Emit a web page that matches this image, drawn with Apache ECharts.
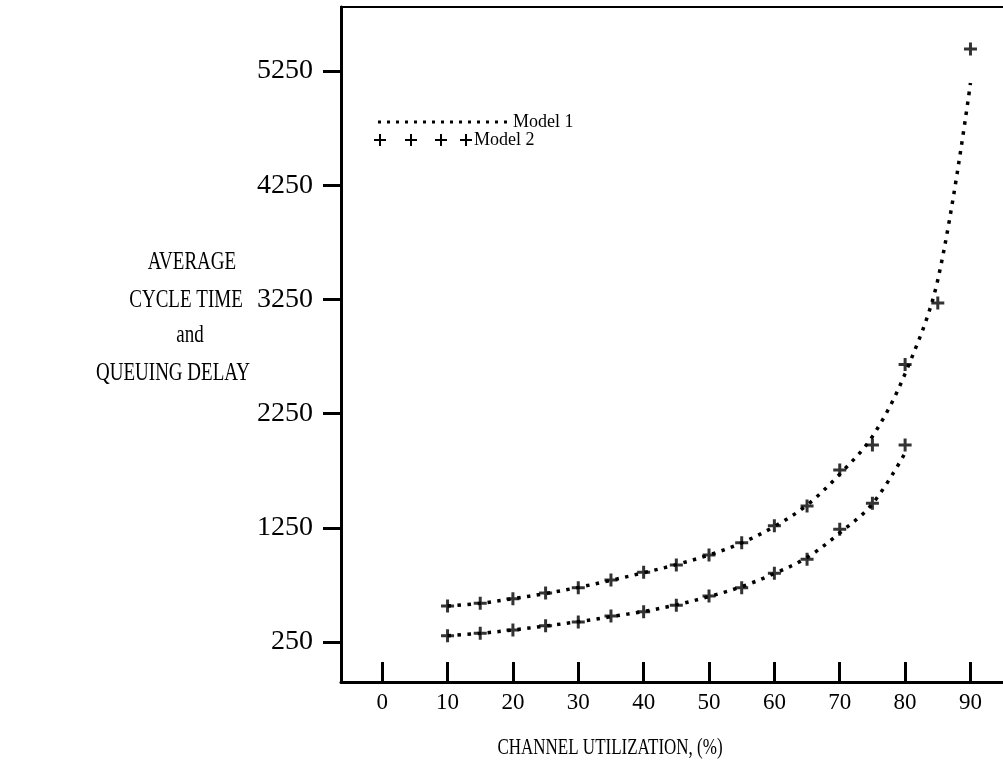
<!DOCTYPE html>
<html>
  <head>
    <meta charset="utf-8" />
    <title>Average cycle time and queuing delay</title>
    <script src="https://cdn.jsdelivr.net/npm/echarts@6/dist/echarts.min.js"></script>
    <style>
      html, body { margin: 0; padding: 0; background: #fff; }
      #chart { width: 1003px; height: 776px; }
    </style>
  </head>
  <body>
    <div id="chart"></div>
    <script type="text/javascript">
      // channel utilization (%)
      var utilUpper = [10, 15, 20, 25, 30, 35, 40, 45, 50, 55, 60, 65, 70, 75, 80, 85, 90];
      var utilLower = [10, 15, 20, 25, 30, 35, 40, 45, 50, 55, 60, 65, 70, 75, 80];

      // Model 1 (dotted curves)
      var model1Cycle = [565, 589, 629, 675, 728, 790, 857, 928, 1012, 1118, 1262, 1450, 1720, 2050, 2600, 3420, 5145];
      var model1Queue = [305, 326, 356, 390, 428, 472, 518, 575, 648, 735, 850, 990, 1205, 1460, 1905];

      // Model 2 (+ marks)
      var model2Cycle = [565, 589, 629, 679, 726, 793, 860, 924, 1012, 1120, 1268, 1441, 1756, 1975, 2680, 3218, 5443];
      var model2Queue = [305, 326, 355, 393, 425, 478, 515, 571, 653, 726, 852, 974, 1237, 1465, 1975];

      // tick labels
      var xTicks = [0, 10, 20, 30, 40, 50, 60, 70, 80, 90];
      var yTicks = [250, 1250, 2250, 3250, 4250, 5250];

      function pairs(xs, ys) {
        return xs.map(function (x, i) { return [x, ys[i]]; });
      }

      var FONT = "Liberation Serif";
      var PLUS = "path://M5,0H8V5H13V8H8V13H5V8H0V5H5Z";
      var PLUS_PTS = [[5, 0], [7, 0], [7, 5], [12, 5], [12, 7], [7, 7], [7, 12], [5, 12], [5, 7], [0, 7], [0, 5], [5, 5]];

      var chart = echarts.init(document.getElementById("chart"));

      function dottedLine(name, data) {
        return {
          name: name,
          type: "line",
          data: data,
          smooth: 0.35,
          symbol: "none",
          lineStyle: { color: "#000", width: 3.5, type: [3.5, 6.5], cap: "butt" },
          z: 2,
        };
      }
      function plusMarks(name, data) {
        return {
          name: name,
          type: "scatter",
          data: data,
          symbol: PLUS,
          symbolSize: 13,
          itemStyle: { color: "#000" },
          z: 3,
        };
      }
      function legendPlus(x, y) {
        return { type: "polygon", x: x, y: y, shape: { points: PLUS_PTS }, style: { fill: "#000" } };
      }

      var option = {
        animation: false,
        backgroundColor: "#fff",
        grid: {
          left: 341,
          top: 7,
          right: -8,
          bottom: 94,
          containLabel: false,
          outerBoundsMode: "none",
          show: true,
          borderColor: "#000",
          borderWidth: 2,
          backgroundColor: "transparent",
        },
        xAxis: {
          type: "value",
          min: -6.3,
          max: 96.2,
          axisLine: { onZero: false, lineStyle: { color: "#000", width: 3 } },
          axisTick: { inside: true, length: 20, customValues: xTicks, lineStyle: { color: "#000", width: 3 } },
          axisLabel: { customValues: xTicks, margin: 9, color: "#000", fontFamily: FONT, fontSize: 23 },
          splitLine: { show: false },
        },
        yAxis: {
          type: "value",
          min: -100,
          max: 5810,
          axisLine: { show: true, onZero: false, lineStyle: { color: "#000", width: 3 } },
          axisTick: { show: true, length: 18, customValues: yTicks, lineStyle: { color: "#000", width: 3 } },
          axisLabel: {
            customValues: yTicks,
            margin: 28,
            color: "#000",
            fontFamily: FONT,
            fontSize: 28,
            formatter: function (v) { return String(v); },
          },
          splitLine: { show: false },
        },
        series: [
          dottedLine("Model 1", pairs(utilUpper, model1Cycle)),
          dottedLine("Model 1", pairs(utilLower, model1Queue)),
          plusMarks("Model 2", pairs(utilUpper, model2Cycle)),
          plusMarks("Model 2", pairs(utilLower, model2Queue)),
        ],
        graphic: [
          // y axis title
          { type: "text", x: 192, y: 262, scaleY: 1.35, style: { text: "AVERAGE", font: "19px " + FONT, fill: "#000", align: "center", verticalAlign: "middle" } },
          { type: "text", x: 186, y: 300, scaleY: 1.35, style: { text: "CYCLE TIME", font: "19px " + FONT, fill: "#000", align: "center", verticalAlign: "middle" } },
          { type: "text", x: 190, y: 335, scaleY: 1.35, style: { text: "and", font: "19px " + FONT, fill: "#000", align: "center", verticalAlign: "middle" } },
          { type: "text", x: 173, y: 373, scaleY: 1.35, style: { text: "QUEUING DELAY", font: "19px " + FONT, fill: "#000", align: "center", verticalAlign: "middle" } },
          // x axis title
          { type: "text", x: 610, y: 748, scaleY: 1.35, style: { text: "CHANNEL UTILIZATION, (%)", font: "17px " + FONT, fill: "#000", align: "center", verticalAlign: "middle" } },
          // legend
          { type: "line", shape: { x1: 378, y1: 122, x2: 510, y2: 122 }, style: { stroke: "#000", lineWidth: 3, lineDash: [3, 6] } },
          { type: "text", x: 513, y: 122, style: { text: "Model 1", font: "18px " + FONT, fill: "#000", align: "left", verticalAlign: "middle" } },
          legendPlus(374, 134),
          legendPlus(405, 134),
          legendPlus(435, 134),
          legendPlus(460, 134),
          { type: "text", x: 474, y: 140, style: { text: "Model 2", font: "18px " + FONT, fill: "#000", align: "left", verticalAlign: "middle" } },
        ],
      };

      chart.setOption(option);
    </script>
  </body>
</html>
